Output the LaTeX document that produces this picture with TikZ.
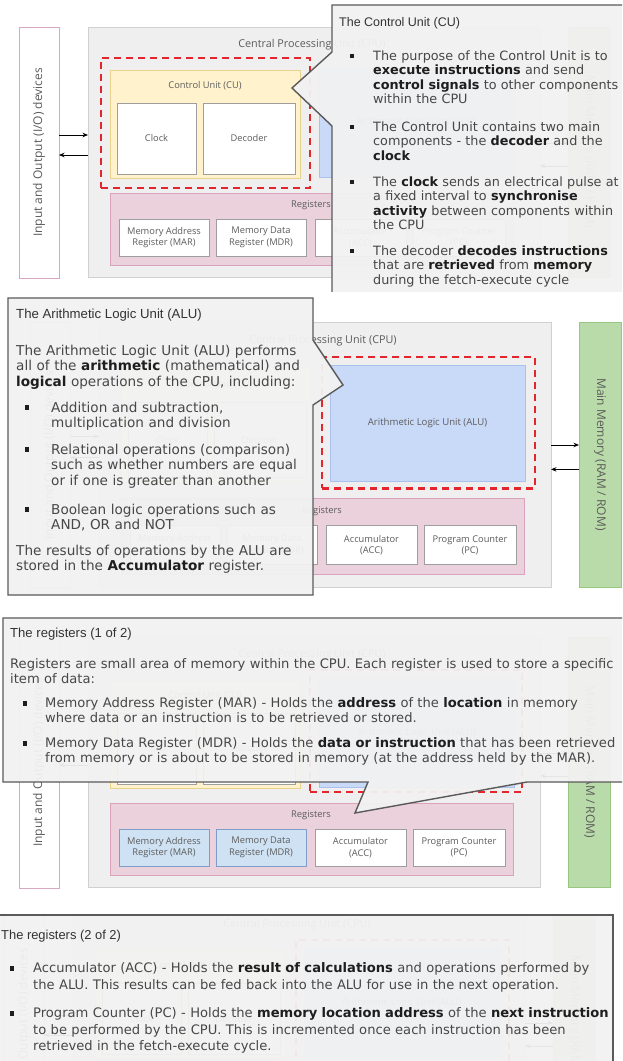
\documentclass[tikz,border=0pt]{standalone}
\usepackage{fontspec}
\usetikzlibrary{arrows.meta}
\newfontfamily\bodyf{DejaVu Sans}
\newfontfamily\titlef{Liberation Sans}
\newfontfamily\diagf{Open Sans}

\definecolor{cpufill}{HTML}{EFEFEF}
\definecolor{cpuline}{HTML}{D0D0D0}
\definecolor{ioline}{HTML}{D8A8C0}
\definecolor{cufill}{HTML}{FFF2CC}
\definecolor{culine}{HTML}{E8D28C}
\definecolor{alufill}{HTML}{C9DAF8}
\definecolor{aluline}{HTML}{A9C1EC}
\definecolor{regfill}{HTML}{EAD1DC}
\definecolor{regline}{HTML}{D9A3BC}
\definecolor{wline}{HTML}{9E9E9E}
\definecolor{hlfill}{HTML}{CFE2F3}
\definecolor{hlline}{HTML}{7F9DC8}
\definecolor{memfill}{HTML}{B9DBA9}
\definecolor{memline}{HTML}{97C680}
\definecolor{redd}{HTML}{E3262C}
\definecolor{calfill}{HTML}{F2F2F2}
\definecolor{calline}{HTML}{5A5A5A}
\definecolor{lbl}{HTML}{5C5C5C}
\definecolor{txt}{HTML}{474747}
\definecolor{btxt}{HTML}{1E1E1E}
\definecolor{tcol}{HTML}{333333}

% bold highlighted words inside the explanations
\newcommand\hb[1]{\textbf{\color{btxt}#1}}

% rectangle node given by two corners, mapped through \pdx, \psy, \pdy
\newcommand\boxnode[7]{%
  \node[#1, minimum width={(#5-#3)*1pt}, minimum height={\psy*(#6-#4)*1pt}]
    (#2) at ({\pdx+(#3+#5)/2},{\psy*(#4+#6)/2+\pdy}) {#7};}

% the CPU block diagram: prefix, MAR/MDR style, ACC/PC style, dashed frame corners
\newcommand\cpudiag[7]{%
  \boxnode{cpubox}{#1cpu}{88}{27}{540}{277}{}
  \boxnode{iobox}{#1io}{19}{27}{59}{278}{}
  \node[vlabel, rotate=90] (#1iol) at (#1io.center) {Input and Output (I/O) devices};
  \boxnode{membox}{#1mem}{568}{27}{610}{277}{}
  \node[vlabel, rotate=-90] (#1meml) at (#1mem.center) {Main Memory (RAM / ROM)};
  \node[cputitle] (#1cput) at ({\pdx+312},{\psy*45+\pdy}) {Central Processing Unit (CPU)};
  \boxnode{cubox}{#1cu}{110}{70}{300}{178}{}
  \node[lab] (#1cul) at ({\pdx+205},{\psy*86+\pdy}) {Control Unit (CU)};
  \boxnode{wbox}{#1clk}{117}{103}{196}{174}{Clock}
  \boxnode{wbox}{#1dec}{203}{103}{295}{174}{Decoder}
  \boxnode{alubox}{#1alu}{319}{68}{514}{177}{Arithmetic Logic Unit (ALU)}
  \boxnode{regbox}{#1reg}{110}{193}{513}{265}{}
  \node[lab] (#1regl) at ({\pdx+311},{\psy*205+\pdy}) {Registers};
  \boxnode{#2}{#1mar}{119}{219}{209}{256}{Memory Address\\Register (MAR)}
  \boxnode{#2}{#1mdr}{216}{219}{306}{256}{Memory Data\\Register (MDR)}
  \boxnode{#3}{#1acc}{315}{219}{406}{256}{Accumulator\\(ACC)}
  \boxnode{#3}{#1pc}{413}{219}{505}{256}{Program Counter\\(PC)}
  \boxnode{hiframe}{#1hl}{#4}{#5}{#6}{#7}{}
  \coordinate (#1ya) at (0,{\psy*135+\pdy});
  \coordinate (#1yb) at (0,{\psy*155+\pdy});
  \coordinate (#1yc) at (0,{\psy*143+\pdy});
  \coordinate (#1yd) at (0,{\psy*166+\pdy});
  \draw[arr] (#1io.east |- #1ya) -- (#1cpu.west |- #1ya);
  \draw[arr] (#1cpu.west |- #1yb) -- (#1io.east |- #1yb);
  \draw[arr] (#1cpu.east |- #1yc) -- (#1mem.west |- #1yc);
  \draw[arr] (#1mem.west |- #1yd) -- (#1cpu.east |- #1yd);
}

\begin{document}
\begin{tikzpicture}[x=1pt, y=-1pt,
  box/.style={rectangle, inner sep=0pt, outer sep=0pt, align=center,
    font=\diagf\fontsize{9.3}{11.5}\selectfont, text=lbl, line width=0.8pt},
  cpubox/.style={box, fill=cpufill, draw=cpuline},
  iobox/.style={box, fill=white, draw=ioline, line width=1pt},
  membox/.style={box, fill=memfill, draw=memline},
  cubox/.style={box, fill=cufill, draw=culine},
  alubox/.style={box, fill=alufill, draw=aluline, font=\diagf\fontsize{9.6}{11.5}\selectfont},
  regbox/.style={box, fill=regfill, draw=regline},
  wbox/.style={box, fill=white, draw=wline},
  hlbox/.style={box, fill=hlfill, draw=hlline},
  hiframe/.style={box, draw=redd, line width=2.4pt, dash pattern=on 7pt off 5pt},
  lab/.style={inner sep=0pt, font=\diagf\fontsize{9.3}{11.5}\selectfont, text=lbl},
  cputitle/.style={inner sep=0pt, font=\diagf\fontsize{10.8}{12}\selectfont, text=lbl},
  vlabel/.style={inner sep=0pt, font=\diagf\fontsize{12}{13}\selectfont, text=lbl},
  arr/.style={-{Stealth[length=5.5pt,width=4.5pt]}, line width=0.9pt, black},
  callout/.style={fill=calfill, fill opacity=0.95, draw=calline, line width=1.4pt, line join=miter},
  ctitle/.style={anchor=base west, inner sep=0pt, text=tcol},
  body/.style={anchor=base west, inner sep=0pt, text width=640pt, align=left, text=txt},
  bul/.style={rectangle, fill=btxt, inner sep=0pt, minimum size=4.5pt}]

\useasboundingbox (0,0) rectangle (622,1061);
\fill[white] (0,0) rectangle (622,1061);

% ---------- Control Unit ----------
\begin{scope}
  \clip (0,0) rectangle (622,291);
  \def\pdx{0}\def\psy{1}\def\pdy{0}
  \cpudiag{a}{wbox}{wbox}{101}{58}{310}{188}
  \draw[callout] (332,5) -- (640,5) -- (640,300) -- (332,300) -- (332,126) -- (292,88) -- (332,52) -- cycle;
  \node[ctitle, font=\titlef\fontsize{12.5}{14}\selectfont] (at) at (339,26.5) {The Control Unit (CU)};
  \begin{scope}[every node/.append style={font=\bodyf\fontsize{12.8}{14.6}\selectfont}]
    \node[bul] (ab1) at (352,56) {};
    \node[body] (ai1) at (373,60) {The purpose of the Control Unit is to\\
      \hb{execute instructions} and send\\ \hb{control signals} to other components\\ within the CPU};
    \node[bul] (ab2) at (352,127) {};
    \node[body] (ai2) at (373,131) {The Control Unit contains two main\\
      components - the \hb{decoder} and the\\ \hb{clock}};
    \node[bul] (ab3) at (352,182) {};
    \node[body] (ai3) at (373,186) {The \hb{clock} sends an electrical pulse at\\
      a fixed interval to \hb{synchronise}\\ \hb{activity} between components within\\ the CPU};
    \node[bul] (ab4) at (352,251) {};
    \node[body] (ai4) at (373,255) {The decoder \hb{decodes instructions}\\
      that are \hb{retrieved} from \hb{memory}\\ during the fetch-execute cycle};
  \end{scope}
\end{scope}

% ---------- Arithmetic Logic Unit ----------
\begin{scope}
  \clip (0,291) rectangle (622,600);
  \def\pdx{11}\def\psy{1.06}\def\pdy{293.4}
  \cpudiag{b}{wbox}{wbox}{311}{60}{524}{184}
  \draw[callout] (8,298) -- (313,298) -- (313,340) -- (343,385) -- (313,405) -- (313,595) -- (8,595) -- cycle;
  \node[ctitle, font=\titlef\fontsize{13.2}{15}\selectfont] (bt) at (16,318) {The Arithmetic Logic Unit (ALU)};
  \begin{scope}[every node/.append style={font=\bodyf\fontsize{13.6}{15.5}\selectfont}]
    \node[body] (bp) at (16,355) {The Arithmetic Logic Unit (ALU) performs\\
      all of the \hb{arithmetic} (mathematical) and\\ \hb{logical} operations of the CPU, including:};
    \node[bul] (bb1) at (27,407.5) {};
    \node[body] (bi1) at (51,412) {Addition and subtraction,\\ multiplication and division};
    \node[bul] (bb2) at (27,449.5) {};
    \node[body] (bi2) at (51,454) {Relational operations (comparison)\\
      such as whether numbers are equal\\ or if one is greater than another};
    \node[bul] (bb3) at (27,509.5) {};
    \node[body] (bi3) at (51,514) {Boolean logic operations such as\\ AND, OR and NOT};
    \node[body] (be) at (16,555) {The results of operations by the ALU are\\
      stored in the \hb{Accumulator} register.};
  \end{scope}
\end{scope}

% ---------- Registers, part 1 ----------
\begin{scope}
  \clip (0,600) rectangle (622,900);
  \def\pdx{0}\def\psy{1}\def\pdy{610}
  \cpudiag{c}{hlbox}{wbox}{310}{60}{522}{182}
  \draw[callout] (3,618) -- (640,618) -- (640,782) -- (527,782) -- (355,813) -- (368,782) -- (3,782) -- cycle;
  \node[ctitle, font=\titlef\fontsize{13.1}{15}\selectfont] (ct) at (10,637.5) {The registers (1 of 2)};
  \begin{scope}[every node/.append style={font=\bodyf\fontsize{13.1}{15}\selectfont}]
    \node[body] (cp) at (10,668.5) {Registers are small area of memory within the CPU. Each register is used to store a specific\\ item of data:};
    \node[bul] (cb1) at (25,703.5) {};
    \node[body] (ci1) at (45,707.5) {Memory Address Register (MAR) - Holds the \hb{address} of the \hb{location} in memory\\
      where data or an instruction is to be retrieved or stored.};
    \node[bul] (cb2) at (25,743.5) {};
    \node[body] (ci2) at (45,747.5) {Memory Data Register (MDR) - Holds the \hb{data or instruction} that has been retrieved\\
      from memory or is about to be stored in memory (at the address held by the MAR).};
  \end{scope}
\end{scope}

% ---------- Registers, part 2 ----------
\begin{scope}
  \clip (0,914.5) rectangle (622,1061);
  \def\pdx{-15}\def\psy{1}\def\pdy{880}
  \cpudiag{d}{wbox}{hlbox}{311}{60}{524}{184}
  \draw[callout] (-5,915) -- (613,915) -- (613,1080) -- (-5,1080) -- cycle;
  \node[ctitle, font=\titlef\fontsize{12.9}{15}\selectfont] (dt) at (1,939.5) {The registers (2 of 2)};
  \begin{scope}[every node/.append style={font=\bodyf\fontsize{13.1}{16.5}\selectfont}]
    \node[bul] (db1) at (12,968.5) {};
    \node[body] (di1) at (33,972.5) {Accumulator (ACC) - Holds the \hb{result of calculations} and operations performed by\\
      the ALU. This results can be fed back into the ALU for use in the next operation.};
    \node[bul] (db2) at (12,1013.5) {};
    \node[body] (di2) at (33,1017.5) {Program Counter (PC) - Holds the \hb{memory location address} of the \hb{next instruction}\\
      to be performed by the CPU. This is incremented once each instruction has been\\
      retrieved in the fetch-execute cycle.};
  \end{scope}
\end{scope}
\end{tikzpicture}
\end{document}
